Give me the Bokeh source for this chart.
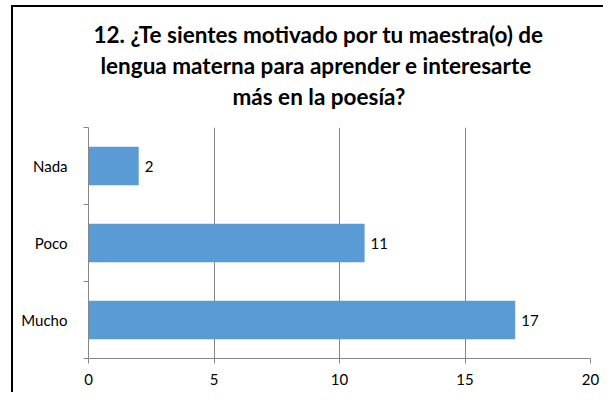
import numpy as np
from bokeh.plotting import figure
from bokeh.models import FixedTicker, Title, ColumnDataSource, LabelSet
from bokeh.core.properties import value
from bokeh.embed import file_html
from bokeh.resources import INLINE

categories = ["Mucho", "Poco", "Nada"]
values = [17, 11, 2]
x_ticks = [0, 5, 10, 15, 20]
title_lines = [
    "12. ¿Te sientes motivado por tu maestra(o) de",
    "lengua materna para aprender e interesarte",
    "más en la poesía?",
]

FONT = "Lato"
GRID = "#868686"
BAR = "#5B9BD5"

pos = np.arange(len(categories)) + 0.5
src = ColumnDataSource(dict(y=pos, v=values, lab=[str(v) for v in values]))

p = figure(width=603, height=392, output_backend="svg", toolbar_location=None,
           x_range=(0, 20), y_range=(0, len(categories)),
           min_border_left=88, min_border_right=13, min_border_top=127, min_border_bottom=34)
p.outline_line_color = None
p.background_fill_color = "white"
p.border_fill_color = None
p.styles = {
    "background": ("linear-gradient(#000, #000) 11px 5px / 2px 100% no-repeat, "
                   "linear-gradient(#000, #000) 11px 5px / 100% 2px no-repeat, #ffffff"),
}

p.hbar(y="y", right="v", left=0, height=0.5, source=src, fill_color=BAR, line_color=None)

labels = LabelSet(x="v", y="y", text="lab", source=src, x_offset=6, text_baseline="middle",
                  text_font=value(FONT), text_font_size=value("15px"), text_color="#000000")
p.add_layout(labels)

# x axis
xa = p.xaxis[0]
xa.ticker = FixedTicker(ticks=x_ticks)
xa.axis_line_color = GRID
xa.major_tick_line_color = GRID
xa.major_tick_out = 5
xa.major_tick_in = 0
xa.minor_tick_line_color = None
xa.major_label_standoff = 10
xa.major_label_text_font = FONT
xa.major_label_text_font_size = "15px"
xa.major_label_text_color = "#000000"

# y axis
ya = p.yaxis[0]
ya.ticker = FixedTicker(ticks=list(pos), minor_ticks=list(range(len(categories) + 1)))
ya.major_label_overrides = {float(y): c for y, c in zip(pos, categories)}
ya.axis_line_color = GRID
ya.major_tick_line_color = None
ya.major_tick_out = 0
ya.major_tick_in = 0
ya.minor_tick_line_color = GRID
ya.minor_tick_out = 5
ya.minor_tick_in = 0
ya.major_label_standoff = 16
ya.major_label_text_font = FONT
ya.major_label_text_font_size = "15px"
ya.major_label_text_color = "#000000"

p.xgrid.grid_line_color = GRID
p.ygrid.grid_line_color = None

# spacer between plot area and title block (first 'above' item sits nearest the frame)
p.add_layout(Title(text=" ", standoff=14, text_font_size="1px"), "above")

# title lines as separate titles (added bottom-up), offsets from frame left
offsets = [5, 12, 144]
for t, off in reversed(list(zip(title_lines, offsets))):
    p.add_layout(Title(text=t, align="left", offset=off, standoff=2, text_font=FONT,
                       text_font_size="22.5px", text_font_style="bold", text_color="#000000"), "above")

open("out.html", "w").write(file_html(p, INLINE))
